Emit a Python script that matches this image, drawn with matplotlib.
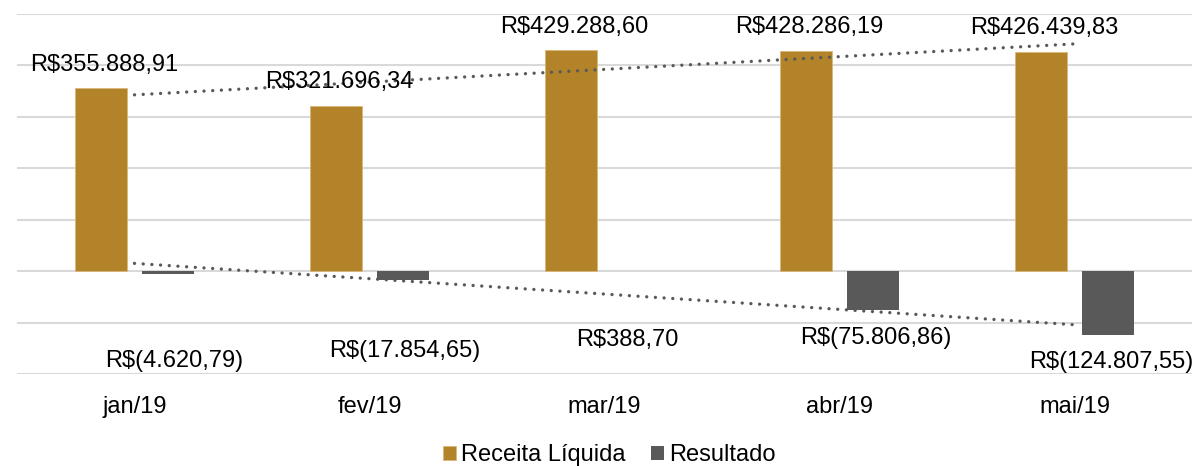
import numpy as np
import matplotlib.pyplot as plt

plt.rcParams['font.family'] = ['Liberation Sans', 'DejaVu Sans']

# Dados

meses = ["jan/19", "fev/19", "mar/19", "abr/19", "mai/19"]
receita = [355888.91, 321696.34, 429288.60, 428286.19, 426439.83]
resultado = [-4620.79, -17854.65, 388.70, -75806.86, -124807.55]

# Cores

c_rec = "#B3832A"
c_res = "#595959"


def fmt_brl(v):
    s = "{:,.2f}".format(abs(v)).replace(",", "X").replace(".", ",").replace("X", ".")
    if v < 0:
        return "R$(" + s + ")"
    return "R$" + s


x = np.arange(len(meses))
w = 0.221
d = 0.141

fig = plt.figure(figsize=(11.96, 4.66), dpi=100)
ax = fig.add_axes([17 / 1196, 92 / 466, 1175 / 1196, 360 / 466])

ax.bar(x - d, receita, w, color=c_rec, edgecolor="#D9B779", linewidth=0.6,
       label="Receita Líquida", zorder=2)
ax.bar(x + d, resultado, w, color=c_res, label="Resultado", zorder=2)

# Linhas de tendencia (linear)

p1 = np.polyfit(x, receita, 1)
p2 = np.polyfit(x, resultado, 1)
ax.plot(x, np.polyval(p1, x), color=c_res, lw=2.4, ls=(0, (0.01, 2.6)),
        dash_capstyle="round", zorder=3)
ax.plot(x, np.polyval(p2, x), color=c_res, lw=2.4, ls=(0, (0.01, 2.6)),
        dash_capstyle="round", zorder=3)

# Rotulos

for i in range(len(meses)):
    ax.annotate(fmt_brl(receita[i]), (x[i] - d, receita[i]), xytext=(2, 17),
                textcoords="offset points", ha="center", va="center",
                fontsize=17, color="black", zorder=4)

# posicao dos rotulos do resultado (colocados a mao no original)
res_lx = [0.03, 0.01, -0.045, 0.015, 0.015]
res_ly = [-175000, -155500, -134000, -130300, -177000]
for i in range(len(meses)):
    ax.text(x[i] + d + res_lx[i], res_ly[i], fmt_brl(resultado[i]),
            ha="center", va="center", fontsize=17, color="black", zorder=4)

ax.set_xlim(-0.5, 4.5)
ax.set_ylim(-200000, 500000)
ax.set_yticks(np.arange(-200000, 500001, 100000))
ax.set_yticklabels([])
ax.grid(axis="y", color="#D9D9D9", lw=1.5, zorder=0)
ax.set_axisbelow(True)
ax.set_xticks(x)
ax.set_xticklabels(meses, fontsize=17)
ax.tick_params(axis="both", length=0)
ax.tick_params(axis="x", pad=16)
for s in ax.spines.values():
    s.set_visible(False)

fig.legend(loc="center", bbox_to_anchor=(609 / 1196, 1 - 455 / 466), ncol=2,
           frameon=False, fontsize=17, handlelength=0.55, handleheight=0.55,
           handletextpad=0.2, columnspacing=1.1, borderaxespad=0)

fig.savefig("out.png", dpi=100)
